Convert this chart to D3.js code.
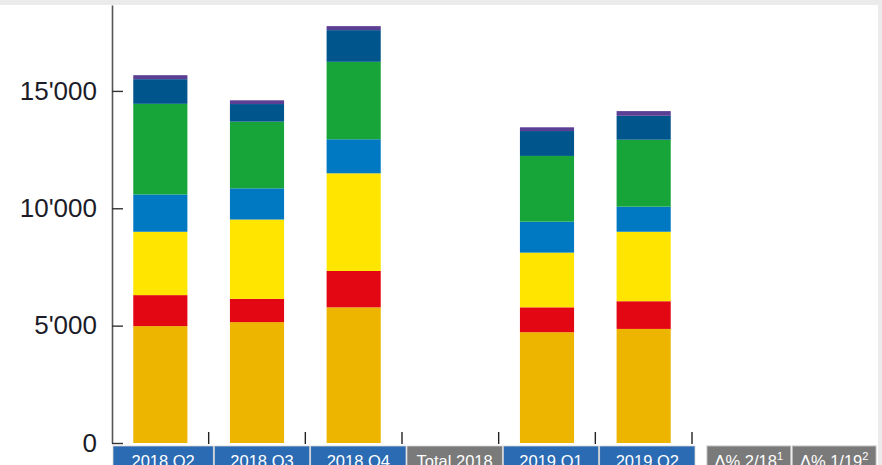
<!DOCTYPE html>
<html>
<head>
<meta charset="utf-8">
<script src="https://cdn.jsdelivr.net/npm/d3@7"></script>
<style>
  html, body { margin: 0; padding: 0; background: #fff; }
  svg { display: block; font-family: "Liberation Sans", Arial, sans-serif; }
</style>
</head>
<body>
<svg id="chart" width="882" height="465"></svg>
<script>
// Quarterly volumes, stacked by segment (bottom to top)
const categories = ["2018 Q2", "2018 Q3", "2018 Q4", "Total 2018", "2019 Q1", "2019 Q2"];
const segments = ["gold", "red", "yellow", "blue", "green", "darkblue", "purple"];
const segmentColors = ["#edb500", "#e30613", "#ffe500", "#0079c2", "#17a539", "#00558c", "#5b3f94"];

const goldValues     = [4980, 5150, 5780, null, 4720, 4860];
const redValues      = [1320,  990, 1550, null, 1060, 1180];
const yellowValues   = [2700, 3380, 4160, null, 2330, 2960];
const blueValues     = [1590, 1330, 1450, null, 1320, 1070];
const greenValues    = [3860, 2840, 3300, null, 2800, 2850];
const darkblueValues = [1050,  750, 1350, null, 1060, 1020];
const purpleValues   = [ 170,  160,  170, null,  160,  200];

const yTicks = [0, 5000, 10000, 15000];
const deltaLabels = [["Δ% 2/18", "1"], ["Δ% 1/19", "2"]];
const totalCategory = "Total 2018";

const seriesValues = [goldValues, redValues, yellowValues, blueValues, greenValues, darkblueValues, purpleValues];

const rows = categories.map((c, i) => {
  const r = { category: c };
  segments.forEach((s, k) => { r[s] = seriesValues[k][i] || 0; });
  return r;
});

const svg = d3.select("#chart");

// page frame strips
svg.append("rect").attr("x", 0).attr("y", 0).attr("width", 882).attr("height", 5).attr("fill", "#ebebeb");
svg.append("rect").attr("x", 878).attr("y", 0).attr("width", 4).attr("height", 465).attr("fill", "#ebebeb");

const x = d3.scaleBand().domain(categories).range([112, 692]).paddingInner(0.44).paddingOuter(0.22);
const y = d3.scaleLinear().domain([0, 18660]).range([443, 5]);

const stack = d3.stack().keys(segments);
const stacked = stack(rows);

const layers = svg.append("g").selectAll("g")
  .data(stacked)
  .join("g")
  .attr("fill", (d, i) => segmentColors[i]);

layers.selectAll("rect")
  .data(d => d.filter(p => p[1] - p[0] > 0))
  .join("rect")
  .attr("x", d => x(d.data.category))
  .attr("width", x.bandwidth())
  .attr("y", d => y(d[1]))
  .attr("height", d => y(d[0]) - y(d[1]));

// y axis
const loc = d3.formatLocale({ decimal: ".", thousands: "'", grouping: [3], currency: ["", ""] });
const yAxis = d3.axisLeft(y).tickValues(yTicks).tickFormat(loc.format(",")).tickSizeInner(-11).tickSizeOuter(0).tickPadding(15);
const yg = svg.append("g").attr("transform", "translate(112,0)").call(yAxis);
yg.select(".domain").attr("stroke", "#555").attr("stroke-width", 1.6);
yg.selectAll(".tick line").attr("stroke", "#333").attr("stroke-width", 1.4);
yg.selectAll(".tick text").attr("font-size", 26).attr("fill", "#1c1c28")
  .attr("font-family", "'Liberation Sans', Arial, sans-serif");

// category separators on baseline
const step = x.step();
svg.append("g").selectAll("line")
  .data(categories)
  .join("line")
  .attr("x1", d => x(d) - x.paddingOuter() * step + step)
  .attr("x2", d => x(d) - x.paddingOuter() * step + step)
  .attr("y1", 432)
  .attr("y2", 444)
  .attr("stroke", "#222")
  .attr("stroke-width", 1.4);

// category header boxes
const boxScale = d3.scaleBand().domain(categories).range([117, 695]);
const boxes = svg.append("g").selectAll("g")
  .data(categories)
  .join("g");
boxes.append("rect")
  .attr("x", (d, i) => i === 0 ? 113 : boxScale(d) + 1)
  .attr("width", (d, i) => i === 0 ? boxScale(d) + boxScale.bandwidth() - 113 : boxScale.bandwidth() - 1)
  .attr("y", 446)
  .attr("height", 30)
  .attr("fill", d => d === totalCategory ? "#7a7a7a" : "#2b6bb3")
  .attr("stroke", "#d4d4d4")
  .attr("stroke-width", 0.8);
boxes.append("text")
  .attr("x", (d, i) => i === 0 ? (113 + boxScale(d) + boxScale.bandwidth()) / 2 : boxScale(d) + boxScale.bandwidth() / 2 + 0.5)
  .attr("y", 467)
  .attr("text-anchor", "middle")
  .attr("font-size", 16.5)
  .attr("fill", "#fff")
  .text(d => d);

// change columns
const deltaScale = d3.scaleBand().domain(deltaLabels.map(d => d[0])).range([707, 876]).paddingInner(0.02);
const dg = svg.append("g").selectAll("g").data(deltaLabels).join("g");
dg.append("rect")
  .attr("x", d => deltaScale(d[0]))
  .attr("width", deltaScale.bandwidth())
  .attr("y", 446)
  .attr("height", 30)
  .attr("fill", "#7a7a7a")
  .attr("stroke", "#bdbdbd")
  .attr("stroke-width", 1);
const dt = dg.append("text")
  .attr("x", d => deltaScale(d[0]) + deltaScale.bandwidth() / 2)
  .attr("y", 467)
  .attr("text-anchor", "middle")
  .attr("font-size", 16.5)
  .attr("fill", "#fff");
dt.append("tspan").text(d => d[0]);
dt.append("tspan").attr("dy", -7).attr("font-size", 11).text(d => d[1]);
</script>
</body>
</html>
